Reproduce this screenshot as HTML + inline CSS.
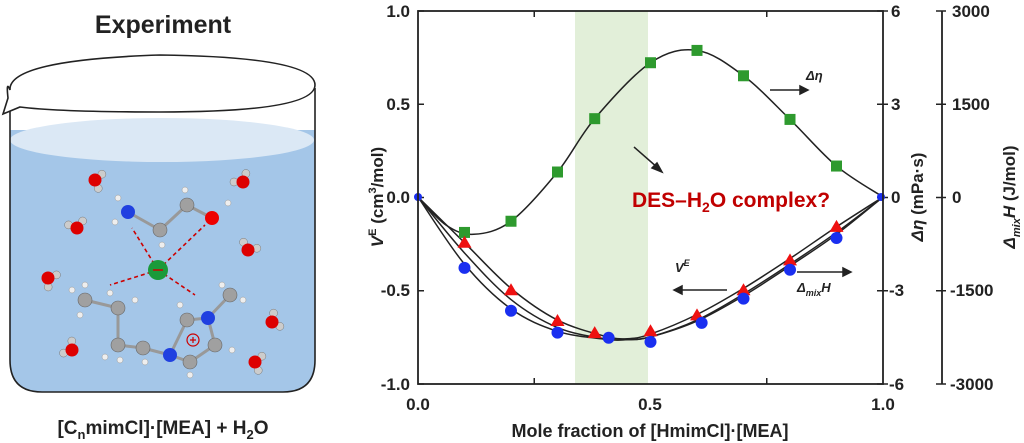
<!DOCTYPE html>
<html><head><meta charset="utf-8"><style>
body{margin:0;background:#fff;width:1024px;height:443px;overflow:hidden}
svg{display:block;font-family:"Liberation Sans",sans-serif}
</style></head><body>
<svg id="s" width="1024" height="443" viewBox="0 0 1024 443">
<text x="163" y="33" font-size="25" font-weight="bold" text-anchor="middle" fill="#222">Experiment</text>
<path d="M10 95 L10 360 Q10 392 42 392 L283 392 Q315 392 315 360 L315 95" fill="#a4c6e8" stroke="none"/>
<rect x="10" y="80" width="305" height="50" fill="#fff"/>
<ellipse cx="162" cy="140" rx="152" ry="22" fill="#dbe8f5"/>
<path d="M10 95 L10 360 Q10 392 42 392 L283 392 Q315 392 315 360 L315 88" fill="none" stroke="#222" stroke-width="1.6"/>
<path d="M10 90 Q8 60 160 55 Q315 57 315 85 Q315 112 160 112 Q60 112 20 107 L3 114 L8 98 Q6 80 10 90 Z" fill="#fff" stroke="#222" stroke-width="1.6"/>
<g id="mol"></g>
<text x="163" y="434" font-size="19" font-weight="bold" text-anchor="middle" fill="#222">[C<tspan font-size="13" dy="5">n</tspan><tspan dy="-5">mimCl]·[MEA] + H</tspan><tspan font-size="13" dy="5">2</tspan><tspan dy="-5">O</tspan></text>
<rect x="575" y="11" width="73" height="373" fill="#e2efd9"/>
<g id="plot"></g>
<rect x="418" y="11" width="465" height="373" fill="none" stroke="#222" stroke-width="1.8"/>
<line x1="942" y1="11" x2="942" y2="384" stroke="#222" stroke-width="1.8"/>
<g font-size="17" font-weight="bold" fill="#222">
<text x="410" y="17" text-anchor="end">1.0</text>
<text x="410" y="110" text-anchor="end">0.5</text>
<text x="410" y="203" text-anchor="end">0.0</text>
<text x="410" y="296" text-anchor="end">-0.5</text>
<text x="410" y="390" text-anchor="end">-1.0</text>
<text x="891" y="17">6</text><text x="891" y="110">3</text><text x="891" y="203">0</text><text x="889" y="296">-3</text><text x="889" y="390">-6</text>
<text x="952" y="17">3000</text><text x="952" y="110">1500</text><text x="952" y="203">0</text><text x="950" y="296">-1500</text><text x="950" y="390">-3000</text>
<text x="418" y="410" text-anchor="middle">0.0</text><text x="650" y="410" text-anchor="middle">0.5</text><text x="883" y="410" text-anchor="middle">1.0</text>
<text x="650" y="437" text-anchor="middle" font-size="18">Mole fraction of [HmimCl]·[MEA]</text>
<text transform="translate(383 197) rotate(-90)" text-anchor="middle"><tspan font-style="italic">V</tspan><tspan font-size="11" dy="-7">E</tspan><tspan dy="7"> (cm</tspan><tspan font-size="11" dy="-7">3</tspan><tspan dy="7">/mol)</tspan></text>
<text transform="translate(923 197) rotate(-90)" text-anchor="middle"><tspan font-style="italic">Δη</tspan> (mPa·s)</text>
<text transform="translate(1015 197) rotate(-90)" text-anchor="middle"><tspan font-style="italic">Δ</tspan><tspan font-style="italic" font-size="11" dy="5">mix</tspan><tspan font-style="italic" dy="-5">H</tspan> (J/mol)</text>
</g>
<text x="632" y="207" font-size="21" font-weight="bold" fill="#c00000">DES–H<tspan font-size="14" dy="5">2</tspan><tspan dy="-5">O complex?</tspan></text>
<g stroke="#222" stroke-width="1.5" fill="#222">
<line x1="634" y1="147" x2="658" y2="168"/><path d="M662 172 L652 168 L657 163Z"/>
<line x1="770" y1="90" x2="802" y2="90"/><path d="M808 90 L800 86 L800 94Z"/>
<line x1="727" y1="290" x2="680" y2="290"/><path d="M674 290 L682 286 L682 294Z"/>
<line x1="797" y1="272" x2="845" y2="272"/><path d="M851 272 L843 268 L843 276Z"/>
</g>
<g font-size="13" font-weight="bold" font-style="italic" fill="#222">
<text x="806" y="80">Δη</text>
<text x="675" y="272">V<tspan font-size="9" dy="-6">E</tspan></text>
<text x="797" y="292">Δ<tspan font-size="9" dy="4">mix</tspan><tspan dy="-4">H</tspan></text>
</g>
</svg>
<script>
var NS="http://www.w3.org/2000/svg";
function X(x){return 418+x*465} function Y(v){return 197-v*186.5}
function el(t,a,p){var e=document.createElementNS(NS,t);for(var k in a)e.setAttribute(k,a[k]);p.appendChild(e);return e}
function cr(pts){var d="M"+pts[0][0]+" "+pts[0][1];for(var i=0;i<pts.length-1;i++){var p0=pts[Math.max(0,i-1)],p1=pts[i],p2=pts[i+1],p3=pts[Math.min(pts.length-1,i+2)];
d+=" C"+(p1[0]+(p2[0]-p0[0])/6)+" "+(p1[1]+(p2[1]-p0[1])/6)+" "+(p2[0]-(p3[0]-p1[0])/6)+" "+(p2[1]-(p3[1]-p1[1])/6)+" "+p2[0]+" "+p2[1];}return d}
var P=document.getElementById("plot");
var sq=[[0.1,-0.19],[0.2,-0.13],[0.3,0.134],[0.38,0.42],[0.5,0.72],[0.6,0.786],[0.7,0.65],[0.8,0.416],[0.9,0.166]];
var tr=[[0.1,-0.245],[0.2,-0.5],[0.3,-0.665],[0.38,-0.73],[0.5,-0.72],[0.6,-0.635],[0.7,-0.5],[0.8,-0.34],[0.9,-0.16]];
var ci=[[0.1,-0.38],[0.2,-0.61],[0.3,-0.727],[0.41,-0.755],[0.5,-0.777],[0.61,-0.675],[0.7,-0.545],[0.8,-0.39],[0.9,-0.22]];
var sqc=[[0,0],[0.06,-0.15],[0.12,-0.2],[0.2,-0.13],[0.3,0.134],[0.38,0.42],[0.5,0.72],[0.6,0.786],[0.7,0.65],[0.8,0.416],[0.9,0.166],[1,0]];
var trc=[[0,0],[0.1,-0.245],[0.2,-0.49],[0.3,-0.66],[0.4,-0.745],[0.45,-0.76],[0.5,-0.735],[0.6,-0.63],[0.7,-0.49],[0.8,-0.33],[0.9,-0.16],[1,0]];
var cic=[[0,0],[0.1,-0.36],[0.2,-0.6],[0.3,-0.72],[0.4,-0.762],[0.45,-0.765],[0.5,-0.75],[0.6,-0.66],[0.7,-0.52],[0.8,-0.36],[0.9,-0.19],[1,0]];
var cic2=[[0,0],[0.1,-0.3],[0.2,-0.55],[0.3,-0.7],[0.4,-0.76],[0.45,-0.765],[0.5,-0.75],[0.6,-0.665],[0.7,-0.53],[0.8,-0.37],[0.9,-0.2],[1,0]];
function m(a){return a.map(function(p){return [X(p[0]),Y(p[1])]})}
[sqc,trc,cic,cic2].forEach(function(c){el("path",{d:cr(m(c)),fill:"none",stroke:"#222","stroke-width":1.5},P)});
for(var i=0;i<=4;i++){var x=X(i*0.25);el("line",{x1:x,y1:384,x2:x,y2:i%2?378:384,stroke:"#222","stroke-width":1.5},P);el("line",{x1:x,y1:11,x2:x,y2:i%2?17:11,stroke:"#222","stroke-width":1.5},P);
var y=11+i*93.25;el("line",{x1:418,y1:y,x2:424,y2:y,stroke:"#222","stroke-width":1.5},P);el("line",{x1:877,y1:y,x2:888,y2:y,stroke:"#222","stroke-width":1.5},P);el("line",{x1:936,y1:y,x2:946,y2:y,stroke:"#222","stroke-width":1.5},P);}
sq.forEach(function(p){el("rect",{x:X(p[0])-5.5,y:Y(p[1])-5.5,width:11,height:11,fill:"#2e9a2e"},P)});
tr.forEach(function(p){var x=X(p[0]),y=Y(p[1]);el("path",{d:"M"+x+" "+(y-7)+" L"+(x+7)+" "+(y+5)+" L"+(x-7)+" "+(y+5)+"Z",fill:"#ee1111"},P)});
ci.forEach(function(p){el("circle",{cx:X(p[0]),cy:Y(p[1]),r:6,fill:"#1a2ff0"},P)});
el("circle",{cx:418,cy:197,r:4,fill:"#1a2ff0"},P);el("circle",{cx:881,cy:197,r:4,fill:"#1a2ff0"},P);
var M=document.getElementById("mol");
function water(x,y,a){var r=a*Math.PI/180;el("circle",{cx:x+9*Math.cos(r),cy:y+9*Math.sin(r),r:4,fill:"#ccc",stroke:"#777","stroke-width":.5},M);el("circle",{cx:x+9*Math.cos(r+1.9),cy:y+9*Math.sin(r+1.9),r:4,fill:"#ccc",stroke:"#777","stroke-width":.5},M);el("circle",{cx:x,cy:y,r:6.5,fill:"#d00"},M)}
[[95,180,-40],[77,228,200],[48,278,-20],[72,350,160],[243,182,180],[248,250,-120],[272,322,-80],[255,362,-40]].forEach(function(w){water(w[0],w[1],w[2])});
var dash={stroke:"#c00","stroke-width":1.6,"stroke-dasharray":"4 3"};
[[158,270,132,228],[158,270,205,225],[158,270,110,285],[158,270,195,295]].forEach(function(l){var a=Object.assign({x1:l[0],y1:l[1],x2:l[2],y2:l[3]},dash);el("line",a,M)});
var bonds=[[128,212,160,230],[160,230,187,205],[187,205,212,218],[85,300,118,308],[118,308,118,345],[118,345,143,348],[143,348,170,355],[170,355,187,320],[187,320,208,318],[208,318,215,345],[215,345,190,362],[190,362,170,355],[208,318,230,295]];
bonds.forEach(function(b){el("line",{x1:b[0],y1:b[1],x2:b[2],y2:b[3],stroke:"#999","stroke-width":3},M)});
[[118,198],[115,222],[162,245],[185,190],[228,203],[72,290],[85,285],[80,315],[110,293],[135,300],[105,357],[120,360],[145,362],[180,305],[190,375],[232,350],[222,285],[243,300]].forEach(function(h){el("circle",{cx:h[0],cy:h[1],r:3,fill:"#eee",stroke:"#999","stroke-width":.5},M)});
[[160,230],[187,205],[85,300],[118,308],[118,345],[143,348],[187,320],[215,345],[190,362],[230,295]].forEach(function(c){el("circle",{cx:c[0],cy:c[1],r:7,fill:"#a0a0a0",stroke:"#666","stroke-width":.6},M)});
[[128,212],[170,355],[208,318]].forEach(function(c){el("circle",{cx:c[0],cy:c[1],r:7,fill:"#2040e0"},M)});
el("circle",{cx:212,cy:218,r:7,fill:"#e00"},M);
el("circle",{cx:158,cy:270,r:10,fill:"#1a9a3a"},M);
el("line",{x1:153,y1:270,x2:163,y2:270,stroke:"#c00","stroke-width":1.5},M);
el("circle",{cx:193,cy:340,r:6,fill:"none",stroke:"#c00","stroke-width":1.2},M);
el("path",{d:"M190 340 H196 M193 337 V343",stroke:"#c00","stroke-width":1.2},M);
</script>
</body></html>
